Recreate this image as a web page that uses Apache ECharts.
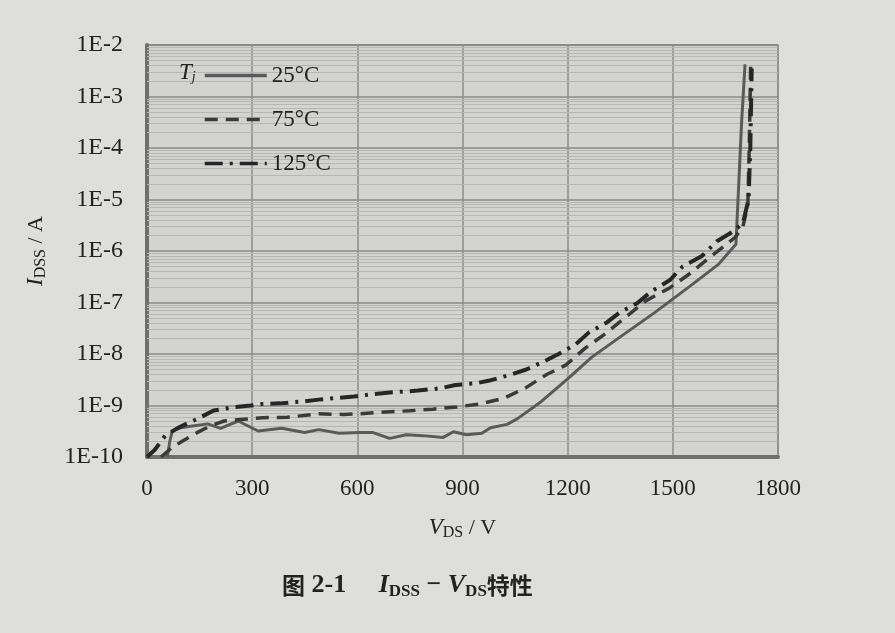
<!DOCTYPE html>
<html>
<head>
<meta charset="utf-8">
<script src="https://cdn.jsdelivr.net/npm/echarts@6/dist/echarts.min.js"></script>
<style>
html,body{margin:0;padding:0;background:#dededb;}
#main{width:895px;height:633px;}
</style>
</head>
<body>
<div id="main"></div>
<script>
// V_DS (V) and I_DSS (A)
var vds25 = [58, 65, 72, 95, 130, 173, 210, 260, 317, 384, 450, 490, 548, 606, 643, 692, 740, 787, 845, 874, 912, 955, 980, 1027, 1056, 1125, 1200, 1269, 1356, 1450, 1550, 1630, 1680, 1686, 1696, 1706];
var i25 = [1e-10, 2e-10, 3.2e-10, 3.7e-10, 4.0e-10, 4.4e-10, 3.6e-10, 5e-10, 3.2e-10, 3.6e-10, 3.0e-10, 3.4e-10, 2.9e-10, 3.0e-10, 3.0e-10, 2.3e-10, 2.7e-10, 2.6e-10, 2.4e-10, 3.1e-10, 2.7e-10, 2.9e-10, 3.7e-10, 4.3e-10, 5.5e-10, 1.2e-9, 3.3e-9, 8.7e-9, 2.3e-8, 6.5e-8, 2.1e-7, 5.5e-7, 1.35e-6, 1e-5, 3e-4, 4.2e-3];

var vds75 = [40, 70, 104, 144, 180, 220, 275, 330, 400, 490, 560, 610, 680, 750, 815, 885, 950, 1020, 1080, 1140, 1195, 1250, 1305, 1365, 1425, 1490, 1550, 1605, 1650, 1678, 1700, 1714, 1718, 1722];
var i75 = [1e-10, 1.5e-10, 2.1e-10, 3.0e-10, 4e-10, 5e-10, 5.4e-10, 5.8e-10, 5.9e-10, 6.9e-10, 6.7e-10, 6.9e-10, 7.5e-10, 7.9e-10, 8.5e-10, 9.4e-10, 1.07e-9, 1.4e-9, 2.2e-9, 4e-9, 6.1e-9, 1.3e-8, 2.4e-8, 5.2e-8, 1.1e-7, 1.9e-7, 3.7e-7, 7.5e-7, 1.3e-6, 1.85e-6, 3e-6, 8e-6, 1e-4, 4e-3];

var vds125 = [0, 23, 37, 52, 86, 118, 144, 190, 219, 245, 296, 331, 380, 445, 490, 540, 590, 642, 700, 773, 835, 880, 938, 981, 1039, 1082, 1131, 1174, 1223, 1260, 1312, 1347, 1399, 1439, 1491, 1528, 1583, 1626, 1672, 1700, 1716, 1721, 1725];
var i125 = [1e-10, 1.4e-10, 1.9e-10, 2.6e-10, 3.6e-10, 4.6e-10, 5.5e-10, 8e-10, 8.6e-10, 9.3e-10, 1e-9, 1.07e-9, 1.1e-9, 1.2e-9, 1.3e-9, 1.4e-9, 1.5e-9, 1.65e-9, 1.8e-9, 1.95e-9, 2.15e-9, 2.5e-9, 2.7e-9, 3.1e-9, 4e-9, 5e-9, 7.1e-9, 1e-8, 1.55e-8, 2.6e-8, 4.1e-8, 6.3e-8, 9.8e-8, 1.65e-7, 2.7e-7, 5e-7, 8e-7, 1.55e-6, 2.4e-6, 3.5e-6, 1e-5, 1e-4, 3.5e-3];

var tempNames = ['25°C', '75°C', '125°C'];
var decades = [-10, -9, -8, -7, -6, -5, -4, -3];
var minorFactors = [2, 3, 4, 5, 6, 7, 8, 9];

var serif = '"Liberation Serif", "DejaVu Serif", serif';

function pairs(xs, ys){
	var out = [];
	for (var i = 0; i < xs.length; i++) out.push([xs[i], ys[i]]);
	return out;
}

// minor log grid lines 2..9 inside each decade
var minorLines = [];
decades.forEach(function(d){
	minorFactors.forEach(function(f){
		minorLines.push([{coord: [0, f * Math.pow(10, d)]}, {coord: [1800, f * Math.pow(10, d)]}]);
	});
});

var chart = echarts.init(document.getElementById('main'));
var option = {
	backgroundColor: '#dededb',
	animation: false,
	grid: {left: 147, right: 117, top: 45, bottom: 176, show: true, backgroundColor: '#d3d3d1', borderColor: '#8a8a8a', borderWidth: 1.5},
	title: {
		left: 277, top: 566,
		text: '{cn|图}{t| 2-1     }{i|I}{sub|DSS}{t| − }{i|V}{sub|DS}{cn|特性}',
		textStyle: {
			rich: {
				cn: {fontFamily: '"Noto Sans CJK SC"', fontSize: 23, color: '#222'},
				t: {fontFamily: serif, fontSize: 26, color: '#222'},
				i: {fontFamily: serif, fontStyle: 'italic', fontSize: 26, color: '#222'},
				sub: {fontFamily: serif, fontSize: 17, color: '#222', padding: [12, 0, 0, 0]}
			}
		}
	},
	legend: {
		orient: 'vertical', left: 198, top: 59, z: 20,
		itemWidth: 62, itemHeight: 14, itemGap: 21,
		itemStyle: {color: 'rgba(0,0,0,0)', borderWidth: 0},
		lineStyle: {width: 3.5},
		textStyle: {fontFamily: serif, fontSize: 23, color: '#222'},
		data: tempNames
	},
	graphic: [{
		type: 'text', left: 179, top: 61, z: 20,
		style: {
			text: '{i|T}{sub|j}',
			rich: {
				i: {fontFamily: serif, fontStyle: 'italic', fontSize: 23, fill: '#222'},
				sub: {fontFamily: serif, fontStyle: 'italic', fontSize: 14, fill: '#222', padding: [10, 0, 0, 0]}
			}
		}
	}],
	xAxis: {
		type: 'value', min: 0, max: 1800, interval: 300,
		name: '{i|V}{sub|DS}{t| / V}', nameLocation: 'middle', nameGap: 58,
		nameTextStyle: {
			rich: {
				i: {fontFamily: serif, fontStyle: 'italic', fontSize: 23, color: '#222'},
				sub: {fontFamily: serif, fontSize: 16, color: '#222', padding: [10, 0, 0, 0]},
				t: {fontFamily: serif, fontSize: 22, color: '#222'}
			}
		},
		axisLine: {lineStyle: {color: '#6f6f6f', width: 4}},
		axisTick: {show: false},
		axisLabel: {fontFamily: serif, fontSize: 23, color: '#222', margin: 20, formatter: function(v){ return String(v); }},
		splitLine: {lineStyle: {color: '#8c8c8c', width: 1.5}}
	},
	yAxis: {
		type: 'log', logBase: 10, min: 1e-10, max: 1e-2,
		name: '{i|I}{sub|DSS}{t| / A}', nameLocation: 'middle', nameGap: 98, nameRotate: 90,
		nameTextStyle: {
			rich: {
				i: {fontFamily: serif, fontStyle: 'italic', fontSize: 23, color: '#222'},
				sub: {fontFamily: serif, fontSize: 16, color: '#222', padding: [10, 0, 0, 0]},
				t: {fontFamily: serif, fontSize: 22, color: '#222'}
			}
		},
		axisLine: {show: true, lineStyle: {color: '#6f6f6f', width: 4}},
		axisTick: {show: false},
		axisLabel: {
			fontFamily: serif, fontSize: 24, color: '#222', margin: 24,
			formatter: function(v){ return '1E' + Math.round(Math.log10(v)); }
		},
		splitLine: {lineStyle: {color: '#8a8a8a', width: 1.5}}
	},
	series: [{
		name: 'minor', type: 'line', data: [], z: 1, silent: true,
		markLine: {
			silent: true, symbol: 'none', label: {show: false}, z: 1,
			lineStyle: {color: '#b6b6b4', width: 1, type: 'solid'},
			emphasis: {disabled: true},
			data: minorLines
		}
	}, {
		name: tempNames[0], type: 'line', symbol: 'none',
		lineStyle: {color: '#5a5a5a', width: 3, type: 'solid'},
		itemStyle: {color: '#5a5a5a'},
		data: pairs(vds25, i25),
		z: 3
	}, {
		name: tempNames[1], type: 'line', symbol: 'none',
		lineStyle: {color: '#3a3a3a', width: 3.5, type: [13, 8]},
		itemStyle: {color: '#3a3a3a'},
		data: pairs(vds75, i75),
		z: 4
	}, {
		name: tempNames[2], type: 'line', symbol: 'none',
		lineStyle: {color: '#262626', width: 4, type: [18, 7, 3, 7]},
		itemStyle: {color: '#262626'},
		data: pairs(vds125, i125),
		z: 5
	}]
};
chart.setOption(option);
</script>
</body>
</html>
